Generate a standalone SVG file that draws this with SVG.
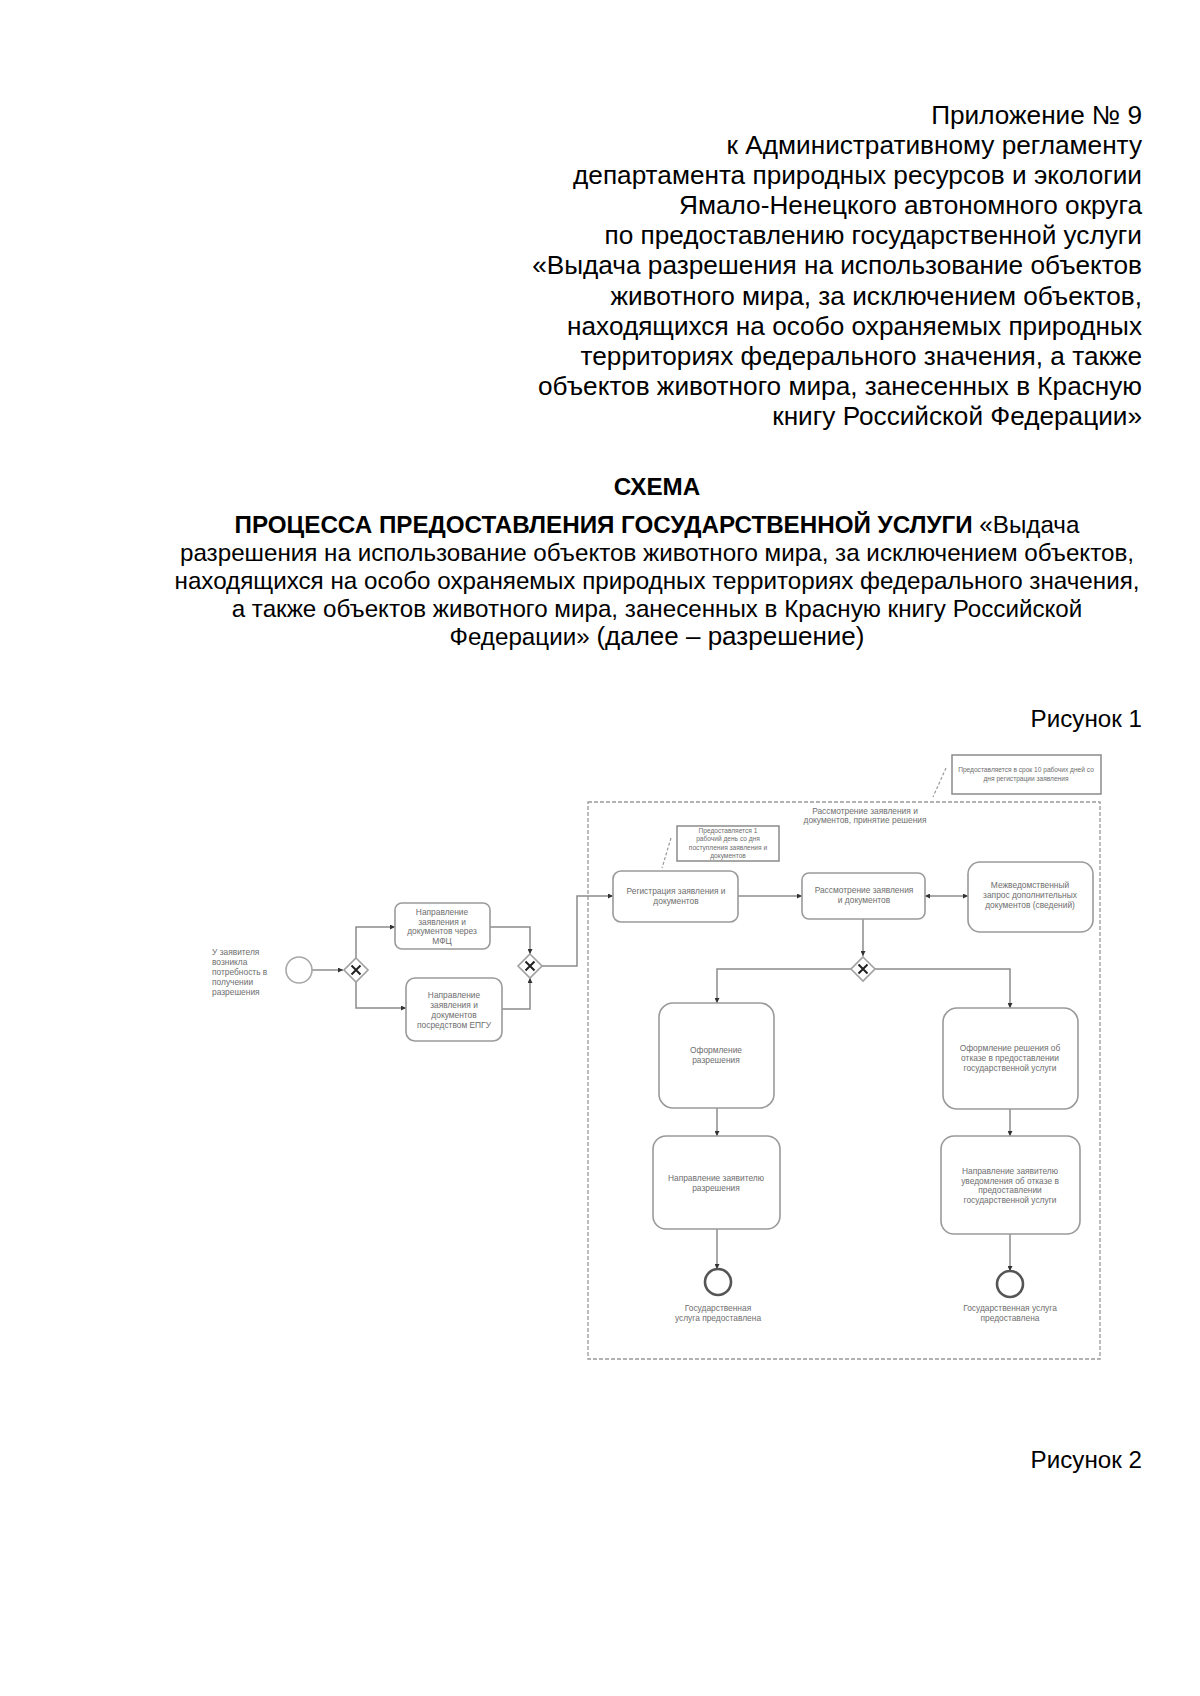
<svg xmlns="http://www.w3.org/2000/svg" width="1200" height="1696" viewBox="0 0 1200 1696">
<style>
.hdr{font-family:"Liberation Sans",Arial,sans-serif;font-size:26.2px;fill:#000;text-anchor:end}
.ttl{font-family:"Liberation Sans",Arial,sans-serif;font-size:24.2px;fill:#000;text-anchor:middle}
.fig{font-family:"Liberation Sans",Arial,sans-serif;font-size:24.2px;fill:#000;text-anchor:end}
.b{font-weight:bold}
.t{font-family:"Liberation Sans",Arial,sans-serif;font-size:8.4px;fill:#6e6e6e;text-anchor:middle}
.tl{font-family:"Liberation Sans",Arial,sans-serif;font-size:8.4px;fill:#6e6e6e}
.s{font-family:"Liberation Sans",Arial,sans-serif;font-size:6.6px;fill:#6e6e6e;text-anchor:middle}
.task{fill:#fff;stroke:#9a9a9a;stroke-width:1.6}
.note{fill:#fff;stroke:#8a8a8a;stroke-width:1.5}
.flow{fill:none;stroke:#8c8c8c;stroke-width:1.5}
.assoc{fill:none;stroke:#999;stroke-width:1.2;stroke-dasharray:3 2}
.cont{fill:none;stroke:#999;stroke-width:1.3;stroke-dasharray:4 2}
.gw{fill:#fff;stroke:#a0a0a0;stroke-width:1.6}
.gx{stroke:#222;stroke-width:2}
.start{fill:#fff;stroke:#a8a8a8;stroke-width:1.6}
.end{fill:#fff;stroke:#555;stroke-width:2.6}
</style>
<defs>
<marker id="arr" viewBox="0 0 6 6" refX="6" refY="3" markerWidth="5" markerHeight="5" markerUnits="userSpaceOnUse" orient="auto-start-reverse">
<path d="M0,0 L6,3 L0,6 z" fill="#333"/>
</marker>
</defs>
<rect x="0" y="0" width="1200" height="1696" fill="#fff"/>

<g id="header">
<text class="hdr" x="1142" y="124">Приложение № 9</text>
<text class="hdr" x="1142" y="154">к Административному регламенту</text>
<text class="hdr" x="1142" y="184">департамента природных ресурсов и экологии</text>
<text class="hdr" x="1142" y="214">Ямало-Ненецкого автономного округа</text>
<text class="hdr" x="1142" y="244">по предоставлению государственной услуги</text>
<text class="hdr" x="1142" y="274">«Выдача разрешения на использование объектов</text>
<text class="hdr" x="1142" y="305">животного мира, за исключением объектов,</text>
<text class="hdr" x="1142" y="335">находящихся на особо охраняемых природных</text>
<text class="hdr" x="1142" y="365">территориях федерального значения, а также</text>
<text class="hdr" x="1142" y="395">объектов животного мира, занесенных в Красную</text>
<text class="hdr" x="1142" y="425">книгу Российской Федерации»</text>
</g>

<g id="title">
<text class="ttl b" x="657" y="495">СХЕМА</text>
<text class="ttl" x="657" y="533"><tspan class="b">ПРОЦЕССА ПРЕДОСТАВЛЕНИЯ ГОСУДАРСТВЕННОЙ УСЛУГИ</tspan> «Выдача</text>
<text class="ttl" x="657" y="561">разрешения на использование объектов животного мира, за исключением объектов,</text>
<text class="ttl" x="657" y="589">находящихся на особо охраняемых природных территориях федерального значения,</text>
<text class="ttl" x="657" y="617">а также объектов животного мира, занесенных в Красную книгу Российской</text>
<text class="ttl" x="657" y="645">Федерации» <tspan style="font-size:26px">(далее – разрешение)</tspan></text>
</g>

<text class="fig" x="1142" y="727">Рисунок 1</text>
<text class="fig" x="1142" y="1468">Рисунок 2</text>

<g id="container">
<rect class="cont" x="588" y="802" width="512" height="557"/>
<text class="t" x="865" y="814">Рассмотрение заявления и</text>
<text class="t" x="865" y="823">документов, принятие решения</text>
</g>

<g id="connectors">
<path class="flow" d="M312,970 L343,970" marker-end="url(#arr)"/>
<path class="flow" d="M356,958 L356,927 L395,927" marker-end="url(#arr)"/>
<path class="flow" d="M356,982 L356,1008 L406,1008" marker-end="url(#arr)"/>
<path class="flow" d="M490,927 L530,927 L530,954" marker-end="url(#arr)"/>
<path class="flow" d="M502,1009 L530,1009 L530,978" marker-end="url(#arr)"/>
<path class="flow" d="M542,966 L577,966 L577,896 L613,896" marker-end="url(#arr)"/>
<path class="flow" d="M738,896 L802,896" marker-end="url(#arr)"/>
<path class="flow" d="M925,896 L968,896" marker-start="url(#arr)" marker-end="url(#arr)"/>
<path class="flow" d="M863,919 L863,956" marker-end="url(#arr)"/>
<path class="flow" d="M851,969 L717,969 L717,1003" marker-end="url(#arr)"/>
<path class="flow" d="M875,969 L1010,969 L1010,1008" marker-end="url(#arr)"/>
<path class="flow" d="M717,1108 L717,1136" marker-end="url(#arr)"/>
<path class="flow" d="M1010,1109 L1010,1136" marker-end="url(#arr)"/>
<path class="flow" d="M717,1229 L717,1269" marker-end="url(#arr)"/>
<path class="flow" d="M1010,1234 L1010,1271" marker-end="url(#arr)"/>
<path class="assoc" d="M671,838 L662,868"/>
<path class="assoc" d="M946,768 L933,797"/>
</g>

<g id="start">
<circle class="start" cx="299" cy="970" r="13"/>
<text class="tl" x="212" y="955">У заявителя</text>
<text class="tl" x="212" y="965">возникла</text>
<text class="tl" x="212" y="975">потребность в</text>
<text class="tl" x="212" y="985">получении</text>
<text class="tl" x="212" y="995">разрешения</text>
</g>

<g id="gw1">
<polygon class="gw" points="356,958 368,970 356,982 344,970"/>
<path class="gx" d="M351.5,965.5 L360.5,974.5 M360.5,965.5 L351.5,974.5"/>
</g>

<g id="task-mfc">
<rect class="task" x="395" y="903" width="95" height="46" rx="7"/>
<text class="t" x="442" y="915">Направление</text>
<text class="t" x="442" y="924.5">заявления и</text>
<text class="t" x="442" y="934">документов через</text>
<text class="t" x="442" y="943.5">МФЦ</text>
</g>

<g id="task-epgu">
<rect class="task" x="406" y="978" width="96" height="63" rx="9"/>
<text class="t" x="454" y="998">Направление</text>
<text class="t" x="454" y="1007.5">заявления и</text>
<text class="t" x="454" y="1017.5">документов</text>
<text class="t" x="454" y="1027.5">посредством ЕПГУ</text>
</g>

<g id="gw2">
<polygon class="gw" points="530,954 542,966 530,978 518,966"/>
<path class="gx" d="M525.5,961.5 L534.5,970.5 M534.5,961.5 L525.5,970.5"/>
</g>

<g id="note-reg">
<rect class="note" x="677" y="826" width="102" height="35"/>
<text class="s" x="728" y="832.5">Предоставляется 1</text>
<text class="s" x="728" y="841">рабочий день со дня</text>
<text class="s" x="728" y="849.5">поступления заявления и</text>
<text class="s" x="728" y="858">документов</text>
</g>

<g id="note-top">
<rect class="note" x="952" y="755" width="149" height="39"/>
<text class="s" x="1026" y="772">Предоставляется в срок 10 рабочих дней со</text>
<text class="s" x="1026" y="780.5">дня регистрации заявления</text>
</g>

<g id="task-reg">
<rect class="task" x="613" y="871" width="125" height="51" rx="8"/>
<text class="t" x="676" y="894">Регистрация заявления и</text>
<text class="t" x="676" y="903.5">документов</text>
</g>

<g id="task-rass">
<rect class="task" x="802" y="873" width="123" height="46" rx="7"/>
<text class="t" x="864" y="893">Рассмотрение заявления</text>
<text class="t" x="864" y="903">и документов</text>
</g>

<g id="task-mezh">
<rect class="task" x="968" y="862" width="125" height="70" rx="12"/>
<text class="t" x="1030" y="888">Межведомственный</text>
<text class="t" x="1030" y="898">запрос дополнительных</text>
<text class="t" x="1030" y="908">документов (сведений)</text>
</g>

<g id="gw3">
<polygon class="gw" points="863,957 875,969 863,981 851,969"/>
<path class="gx" d="M858.5,964.5 L867.5,973.5 M867.5,964.5 L858.5,973.5"/>
</g>

<g id="task-oform">
<rect class="task" x="659" y="1003" width="115" height="105" rx="14"/>
<text class="t" x="716" y="1053">Оформление</text>
<text class="t" x="716" y="1063">разрешения</text>
</g>

<g id="task-otkaz">
<rect class="task" x="943" y="1008" width="135" height="101" rx="14"/>
<text class="t" x="1010" y="1051">Оформление решения об</text>
<text class="t" x="1010" y="1061">отказе в предоставлении</text>
<text class="t" x="1010" y="1071">государственной услуги</text>
</g>

<g id="task-napr-razr">
<rect class="task" x="653" y="1136" width="127" height="93" rx="13"/>
<text class="t" x="716" y="1181">Направление заявителю</text>
<text class="t" x="716" y="1190.5">разрешения</text>
</g>

<g id="task-napr-otkaz">
<rect class="task" x="941" y="1136" width="139" height="98" rx="13"/>
<text class="t" x="1010" y="1174">Направление заявителю</text>
<text class="t" x="1010" y="1183.5">уведомления об отказе в</text>
<text class="t" x="1010" y="1193">предоставлении</text>
<text class="t" x="1010" y="1202.5">государственной услуги</text>
</g>

<g id="end-left">
<circle class="end" cx="718" cy="1282" r="13"/>
<text class="t" x="718" y="1311">Государственная</text>
<text class="t" x="718" y="1321">услуга предоставлена</text>
</g>

<g id="end-right">
<circle class="end" cx="1010" cy="1284" r="13"/>
<text class="t" x="1010" y="1311">Государственная услуга</text>
<text class="t" x="1010" y="1321">предоставлена</text>
</g>
</svg>
